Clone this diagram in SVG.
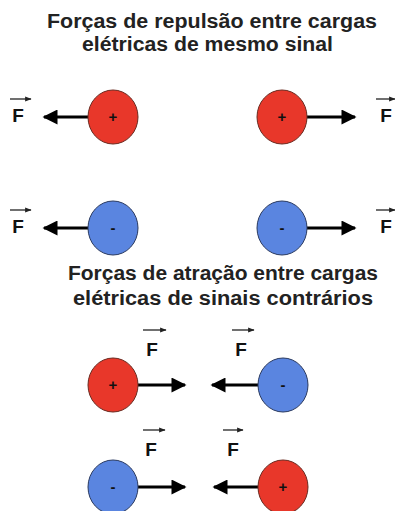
<svg xmlns="http://www.w3.org/2000/svg" width="395" height="511" viewBox="0 0 395 511">
<defs>
<style>
.t{font-family:"Liberation Sans",Arial,sans-serif;font-weight:bold;font-size:20px;fill:#222}
.f{font-family:"Liberation Sans",Arial,sans-serif;font-weight:bold;font-size:19px;fill:#111;text-anchor:middle}
.s{font-family:"Liberation Sans",Arial,sans-serif;font-weight:bold;font-size:15px;fill:#111;text-anchor:middle}
.red{fill:#e8372a;stroke:#6a2a20;stroke-width:1}
.blue{fill:#5a85e0;stroke:#2a3a60;stroke-width:1}
.ln{stroke:#000;stroke-width:3;fill:none}
.vec{stroke:#222;stroke-width:1.3;fill:none}
</style>
<marker id="ah" viewBox="0 0 10 10" refX="9" refY="5" markerWidth="7" markerHeight="5" markerUnits="strokeWidth" orient="auto">
<path d="M0,0 L10,5 L0,10 Z" fill="#000"/>
</marker>
<marker id="sh" viewBox="0 0 10 10" refX="9" refY="5" markerWidth="5" markerHeight="5" markerUnits="strokeWidth" orient="auto">
<path d="M0,1 L10,5 L0,9 Z" fill="#222"/>
</marker>
</defs>
<g id="title1">
<text class="t" x="47" y="28" textLength="330" lengthAdjust="spacingAndGlyphs">Forças de repulsão entre cargas</text>
<text class="t" x="82" y="51" textLength="251" lengthAdjust="spacingAndGlyphs">elétricas de mesmo sinal</text>
</g>
<g id="title2">
<text class="t" x="68" y="280" textLength="310" lengthAdjust="spacingAndGlyphs">Forças de atração entre cargas</text>
<text class="t" x="73" y="305" textLength="300" lengthAdjust="spacingAndGlyphs">elétricas de sinais contrários</text>
</g>
<g id="connectors">
<line class="ln" x1="88" y1="117" x2="44" y2="117" marker-end="url(#ah)"/>
<line class="ln" x1="307" y1="117" x2="355" y2="117" marker-end="url(#ah)"/>
<line class="ln" x1="88" y1="228" x2="44" y2="228" marker-end="url(#ah)"/>
<line class="ln" x1="307" y1="228" x2="355" y2="228" marker-end="url(#ah)"/>
<line class="ln" x1="138" y1="385" x2="185" y2="385" marker-end="url(#ah)"/>
<line class="ln" x1="258" y1="385" x2="212" y2="385" marker-end="url(#ah)"/>
<line class="ln" x1="138" y1="487" x2="185" y2="487" marker-end="url(#ah)"/>
<line class="ln" x1="258" y1="487" x2="214" y2="487" marker-end="url(#ah)"/>
</g>
<g id="F1"><line class="vec" x1="10" y1="99" x2="31" y2="99" marker-end="url(#sh)"/><text class="f" x="18" y="122">F</text></g>
<g id="F2"><line class="vec" x1="376" y1="99" x2="395" y2="99" marker-end="url(#sh)"/><text class="f" x="386" y="122">F</text></g>
<g id="F3"><line class="vec" x1="10" y1="210" x2="31" y2="210" marker-end="url(#sh)"/><text class="f" x="18" y="233">F</text></g>
<g id="F4"><line class="vec" x1="376" y1="210" x2="395" y2="210" marker-end="url(#sh)"/><text class="f" x="386" y="233">F</text></g>
<g id="F5"><line class="vec" x1="143" y1="330" x2="166" y2="330" marker-end="url(#sh)"/><text class="f" x="152" y="356">F</text></g>
<g id="F6"><line class="vec" x1="232" y1="330" x2="254" y2="330" marker-end="url(#sh)"/><text class="f" x="241" y="356">F</text></g>
<g id="F7"><line class="vec" x1="143" y1="430" x2="165" y2="430" marker-end="url(#sh)"/><text class="f" x="151" y="456">F</text></g>
<g id="F8"><line class="vec" x1="223" y1="430" x2="243" y2="430" marker-end="url(#sh)"/><text class="f" x="233" y="456">F</text></g>
<g id="c1"><ellipse class="red" cx="113" cy="117" rx="25" ry="27"/><text class="s" x="113" y="122">+</text></g>
<g id="c2"><ellipse class="red" cx="282" cy="117" rx="25" ry="27"/><text class="s" x="282" y="122">+</text></g>
<g id="c3"><ellipse class="blue" cx="113" cy="228" rx="25" ry="27"/><text class="s" x="113" y="233">-</text></g>
<g id="c4"><ellipse class="blue" cx="282" cy="228" rx="25" ry="27"/><text class="s" x="282" y="233">-</text></g>
<g id="c5"><ellipse class="red" cx="113" cy="385" rx="25" ry="27"/><text class="s" x="113" y="390">+</text></g>
<g id="c6"><ellipse class="blue" cx="283" cy="385" rx="25" ry="27"/><text class="s" x="283" y="390">-</text></g>
<g id="c7"><ellipse class="blue" cx="113" cy="487" rx="25" ry="27"/><text class="s" x="113" y="492">-</text></g>
<g id="c8"><ellipse class="red" cx="283" cy="487" rx="25" ry="27"/><text class="s" x="283" y="492">+</text></g>
</svg>
